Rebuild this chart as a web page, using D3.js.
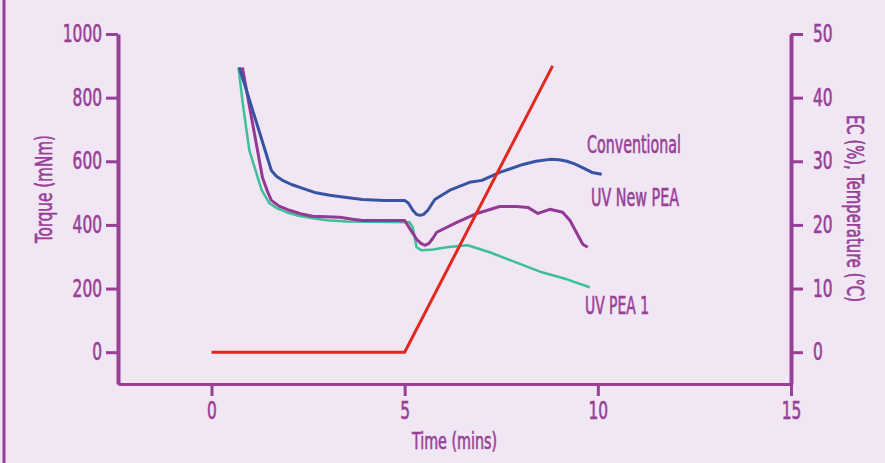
<!DOCTYPE html>
<meta charset="utf-8">
<script src="https://d3js.org/d3.v7.min.js"></script>
<style>
  body { margin: 0; background: #f1e6f3; }
  text { font-family: "DejaVu Sans Condensed", "Liberation Sans Narrow", sans-serif; fill: #983f98; stroke: #983f98; stroke-width: 0.6px; }
</style>
<body>
<div id="chart"></div>
<script>
// torque curves (time in mins, torque in mNm)
var convT = [0.72, 1.55, 1.68, 1.84, 2.07, 2.36, 2.67, 3.06, 3.45, 3.91, 4.48, 5.0, 5.1, 5.21, 5.31, 5.39, 5.49, 5.6, 5.7, 5.78, 6.17, 6.68, 7.0, 7.46, 8.06, 8.4, 8.76, 9.0, 9.2, 9.4, 9.59, 9.85, 10.1];
var convV = [895, 571, 553, 540, 527, 515, 502, 493, 487, 480, 477, 477, 468, 446, 433, 430, 433, 446, 465, 480, 509, 534, 540, 565, 590, 600, 606, 605, 600, 592, 581, 565, 559];

var newT = [0.8, 1.11, 1.32, 1.45, 1.55, 1.75, 2.02, 2.3, 2.62, 3.32, 3.65, 3.91, 5.0, 5.13, 5.31, 5.42, 5.52, 5.63, 5.73, 5.83, 6.35, 6.87, 7.46, 7.9, 8.19, 8.45, 8.76, 9.09, 9.28, 9.61, 9.74];
var newV = [895, 688, 549, 505, 477, 459, 446, 435, 427, 424, 418, 414, 414, 389, 355, 342, 336, 342, 358, 377, 408, 436, 458, 458, 455, 436, 449, 440, 414, 339, 330];

var pea1T = [0.7, 0.8, 0.98, 1.22, 1.3, 1.5, 1.7, 1.94, 2.25, 2.62, 3.0, 3.5, 5.13, 5.21, 5.31, 5.44, 5.73, 6.09, 6.63, 7.2, 7.8, 8.55, 9.2, 9.79];
var pea1V = [895, 791, 634, 540, 509, 468, 452, 440, 429, 421, 415, 411, 408, 392, 330, 320, 323, 330, 336, 314, 286, 251, 229, 204];

// EC / temperature (right axis)
var tempT = [0, 5, 8.83];
var tempV = [0, 0, 45];

var xTicks = [0, 5, 10, 15];
var yTicks = [0, 200, 400, 600, 800, 1000];
var y2Ticks = [0, 10, 20, 30, 40, 50];

var W = 885, H = 463;
var purple = "#983f98";

var svg = d3.select("#chart").append("svg")
  .attr("width", W).attr("height", H)
  .style("display", "block");

svg.append("rect").attr("width", W).attr("height", H).attr("fill", "#f1e6f3");
svg.append("line")
  .attr("x1", 4).attr("x2", 4).attr("y1", 0).attr("y2", H)
  .attr("stroke", purple).attr("stroke-width", 3);

var x = d3.scaleLinear().domain([-2.42, 15]).range([118, 791]);
var y = d3.scaleLinear().domain([-100, 1000]).range([384, 34]);
var y2 = d3.scaleLinear().domain([-5, 50]).range([384, 34]);

function styleAxis(g, w) {
  g.select(".domain").attr("stroke", purple).attr("stroke-width", w);
  g.selectAll(".tick line").attr("stroke", purple).attr("stroke-width", 3);
  g.selectAll(".tick text").attr("fill", purple)
    .style("font-size", "24px")
    .style("font-family", "\"DejaVu Sans Condensed\", sans-serif")
    .attr("textLength", function() { return this.textContent.length * 9.8; })
    .attr("lengthAdjust", "spacingAndGlyphs");
}

svg.append("g")
  .attr("transform", "translate(0,384)")
  .call(d3.axisBottom(x).tickValues(xTicks).tickFormat(d3.format("d")).tickSize(12).tickSizeOuter(0).tickPadding(6))
  .call(styleAxis, 3);

svg.append("g")
  .attr("transform", "translate(118,0)")
  .call(d3.axisLeft(y).tickValues(yTicks).tickFormat(d3.format("d")).tickSize(12).tickSizeOuter(0).tickPadding(4))
  .call(styleAxis, 4);

svg.append("g")
  .attr("transform", "translate(791,0)")
  .call(d3.axisRight(y2).tickValues(y2Ticks).tickFormat(d3.format("d")).tickSize(12).tickSizeOuter(0).tickPadding(10))
  .call(styleAxis, 4);

var line = d3.line()
  .x(function(d) { return x(d[0]); })
  .y(function(d) { return y(d[1]); });

var line2 = d3.line()
  .x(function(d) { return x(d[0]); })
  .y(function(d) { return y2(d[1]); });

function pairs(a, b) { return a.map(function(v, i) { return [v, b[i]]; }); }

svg.append("path").datum(pairs(pea1T, pea1V))
  .attr("d", line).attr("fill", "none").attr("stroke", "#3dbf98").attr("stroke-width", 2.5)
  .attr("stroke-linejoin", "round");
svg.append("path").datum(pairs(newT, newV))
  .attr("d", line).attr("fill", "none").attr("stroke", "#933893").attr("stroke-width", 3)
  .attr("stroke-linejoin", "round");
svg.append("path").datum(pairs(convT, convV))
  .attr("d", line).attr("fill", "none").attr("stroke", "#3853a3").attr("stroke-width", 3)
  .attr("stroke-linejoin", "round");
svg.append("path").datum(pairs(tempT, tempV))
  .attr("d", line2).attr("fill", "none").attr("stroke", "#e2271f").attr("stroke-width", 3);

// labels
function label(txt, px, py, len, size) {
  return svg.append("text").attr("x", px).attr("y", py)
    .attr("textLength", len).attr("lengthAdjust", "spacingAndGlyphs")
    .style("font-size", size + "px").text(txt);
}
label("Conventional", 587, 153, 94, 24);
label("UV New PEA", 591, 206, 88, 24);
label("UV PEA 1", 585, 314, 64, 24);
label("Time (mins)", 412, 449, 85, 23);

svg.append("text")
  .attr("transform", "translate(52,243) rotate(-90)")
  .attr("textLength", 108).attr("lengthAdjust", "spacingAndGlyphs")
  .style("font-size", "23px").text("Torque (mNm)");

svg.append("text")
  .attr("transform", "translate(847,115) rotate(90)")
  .attr("textLength", 187).attr("lengthAdjust", "spacingAndGlyphs")
  .style("font-size", "23px").text("EC (%), Temperature (°C)");
</script>
</body>
